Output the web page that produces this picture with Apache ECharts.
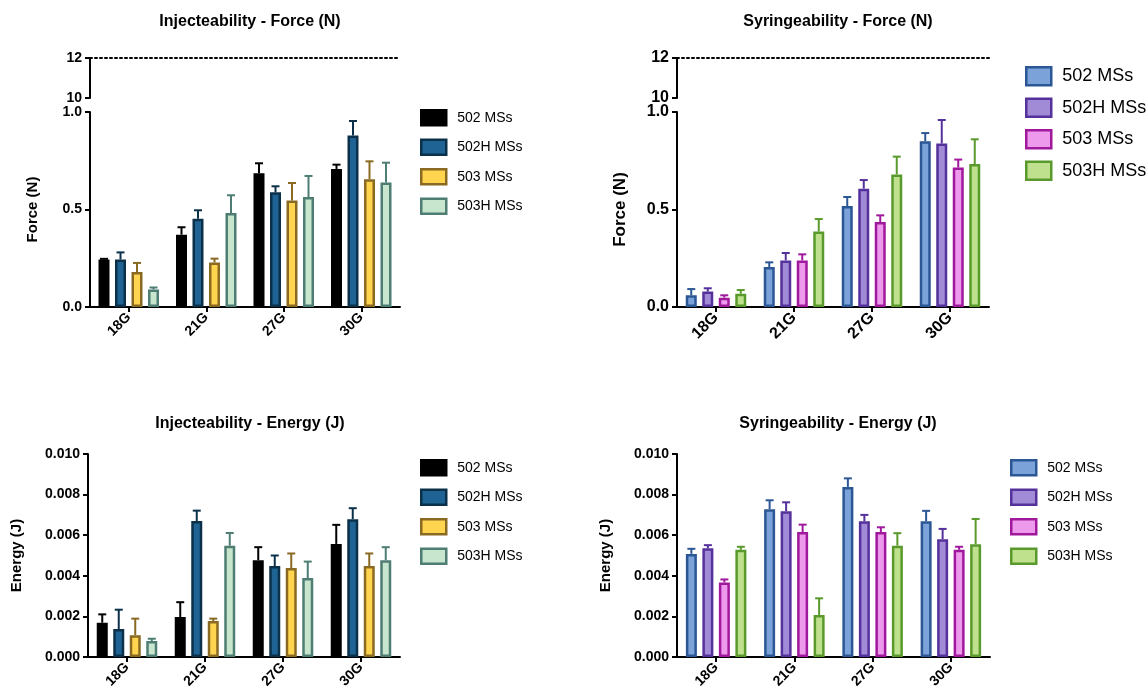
<!DOCTYPE html>
<html>
<head>
<meta charset="utf-8">
<title>Injecteability / Syringeability</title>
<script src="https://cdn.jsdelivr.net/npm/echarts@6/dist/echarts.min.js"></script>
<style>
    html, body { margin: 0; padding: 0; background: #fff; }
    #chart { width: 1146px; height: 695px; }
</style>
</head>
<body>
<div id="chart"></div>
<script>
// 分类与图例
var categories = ['18G', '21G', '27G', '30G'];
var seriesNames = ['502 MSs', '502H MSs', '503 MSs', '503H MSs'];

// Injecteability - Force (N): 均值 / SD
var injF502 = [0.243, 0.371, 0.686, 0.708],  injF502Sd = [0.004, 0.038, 0.051, 0.022];
var injF502H = [0.243, 0.453, 0.588, 0.879], injF502HSd = [0.037, 0.043, 0.031, 0.075];
var injF503 = [0.180, 0.228, 0.546, 0.655],  injF503Sd = [0.046, 0.020, 0.090, 0.092];
var injF503H = [0.090, 0.482, 0.564, 0.638], injF503HSd = [0.010, 0.091, 0.108, 0.102];

// Syringeability - Force (N)
var syrF502 = [0.060, 0.205, 0.518, 0.850],  syrF502Sd = [0.032, 0.024, 0.046, 0.042];
var syrF502H = [0.079, 0.239, 0.607, 0.838], syrF502HSd = [0.017, 0.038, 0.044, 0.121];
var syrF503 = [0.048, 0.239, 0.436, 0.715],  syrF503Sd = [0.012, 0.031, 0.034, 0.041];
var syrF503H = [0.068, 0.387, 0.680, 0.733], syrF503HSd = [0.019, 0.064, 0.091, 0.127];

// Injecteability - Energy (J)
var injE502 = [0.00169, 0.00197, 0.00477, 0.00557],  injE502Sd = [0.00041, 0.00073, 0.00064, 0.00094];
var injE502H = [0.00138, 0.00670, 0.00448, 0.00679], injE502HSd = [0.00095, 0.00051, 0.00052, 0.00054];
var injE503 = [0.00107, 0.00177, 0.00438, 0.00448],  injE503Sd = [0.00082, 0.00012, 0.00072, 0.00062];
var injE503H = [0.00079, 0.00548, 0.00389, 0.00477], injE503HSd = [0.00011, 0.00063, 0.00081, 0.00064];

// Syringeability - Energy (J)
var syrE502 = [0.00508, 0.00728, 0.00838, 0.00669],  syrE502Sd = [0.00025, 0.00044, 0.00042, 0.00051];
var syrE502H = [0.00536, 0.00718, 0.00669, 0.00580], syrE502HSd = [0.00015, 0.00044, 0.00031, 0.00051];
var syrE503 = [0.00367, 0.00616, 0.00616, 0.00528],  syrE503Sd = [0.00015, 0.00036, 0.00023, 0.00015];
var syrE503H = [0.00528, 0.00207, 0.00548, 0.00556], syrE503HSd = [0.00015, 0.00082, 0.00062, 0.00124];

var FONT = '"Liberation Sans", Arial, Helvetica, sans-serif';
var BAR_W = 11, BORDER_W = 2.5, BAR_GAP = 0.5;
var STEP = BAR_W * (1 + BAR_GAP);

var injFills = ['#000000', '#1f6394', '#ffd54f', '#c8e6cd'];
var injBorders = ['#000000', '#0b3049', '#8a6a22', '#4d7d73'];
var syrFills = ['#7ba3d9', '#a18bd6', '#ee9aec', '#bfe08c'];
var syrBorders = ['#2b5795', '#55319b', '#a0199c', '#5a9a2c'];

var option = {
    backgroundColor: '#fff',
    animation: false,
    title: [], grid: [], xAxis: [], yAxis: [], legend: [], series: []
};

/**
 * 误差线（只画上半部分）
 */
function errorBarItem(i, color) {
    return function (params, api) {
        var c = api.value(0);
        var base = api.coord([c, api.value(1)]);
        var top = api.coord([c, api.value(2)]);
        var x = base[0] + (i - 1.5) * STEP;
        var st = {stroke: color, lineWidth: 2};
        return {
            type: 'group',
            children: [
                {type: 'line', shape: {x1: x, y1: base[1], x2: x, y2: top[1]}, style: st},
                {type: 'line', shape: {x1: x - 4, y1: top[1], x2: x + 4, y2: top[1]}, style: st}
            ]
        };
    };
}

function valueAxis(gridIndex, min, max, interval, fs, fmt) {
    return {
        type: 'value', gridIndex: gridIndex, min: min, max: max, interval: interval,
        axisLine: {show: true, lineStyle: {color: '#000', width: 2}},
        axisTick: {show: true, length: 5, lineStyle: {color: '#000', width: 2}},
        splitLine: {show: false},
        axisLabel: {color: '#000', fontFamily: FONT, fontWeight: 'bold', fontSize: fs, formatter: fmt}
    };
}

function addPanel(p) {
    var k = option.grid.length;
    if (p.broken) {
        // 断轴上段 10-12，顶部虚线在 12
        option.grid.push({left: p.left, width: p.width, top: 58, height: 40});
        option.xAxis.push({
            type: 'category', gridIndex: k, data: categories, position: 'top',
            axisLine: {show: true, onZero: false, lineStyle: {color: '#000', width: 2, type: [2, 3]}},
            axisTick: {show: false}, axisLabel: {show: false}
        });
        option.yAxis.push(valueAxis(k, 10, 12, 2, p.yfs, function (v) { return String(v); }));
        k++;
    }
    option.grid.push({left: p.left, width: p.width, top: p.top, height: p.height});
    option.xAxis.push({
        type: 'category', gridIndex: k, data: categories,
        axisLine: {show: true, onZero: false, lineStyle: {color: '#000', width: 2}},
        axisTick: {show: true, alignWithLabel: true, length: 5, lineStyle: {color: '#000', width: 2}},
        axisLabel: {color: '#000', fontFamily: FONT, fontWeight: 'bold', fontSize: p.xfs, rotate: 45, margin: 8}
    });
    var ya = valueAxis(k, 0, p.yMax, p.yInterval, p.yfs, function (v) { return v.toFixed(p.decimals); });
    ya.name = p.yName;
    ya.nameLocation = 'middle';
    ya.nameGap = p.nameGap;
    ya.nameTextStyle = {color: '#000', fontFamily: FONT, fontWeight: 'bold', fontSize: p.nameFs};
    option.yAxis.push(ya);

    option.title.push({
        text: p.title, left: p.titleX, top: p.titleTop, textAlign: 'center',
        textStyle: {color: '#000', fontFamily: FONT, fontWeight: 'bold', fontSize: 16}
    });

    var names = [];
    for (var i = 0; i < 4; i++) {
        var name = seriesNames[i] + '#' + p.key;
        names.push(name);
        option.series.push({
            type: 'bar', name: name, xAxisIndex: k, yAxisIndex: k,
            data: p.means[i], barWidth: BAR_W, barGap: (BAR_GAP * 100) + '%', z: 3,
            itemStyle: {color: p.fills[i], borderColor: p.borders[i], borderWidth: BORDER_W}
        });
        option.series.push({
            type: 'custom', name: name + '-err', xAxisIndex: k, yAxisIndex: k, z: 2,
            renderItem: errorBarItem(i, p.borders[i]),
            data: categories.map(function (c, j) {
                return [j, p.means[i][j], p.means[i][j] + p.sds[i][j]];
            })
        });
    }
    option.legend.push({
        data: names, orient: 'vertical', left: p.lg.left, top: p.lg.top,
        itemWidth: 25, itemHeight: p.lg.h, itemGap: p.lg.gap, icon: 'rect', selectedMode: false,
        itemStyle: {borderWidth: 2.5},
        formatter: function (n) { return n.split('#')[0]; },
        textStyle: {color: '#000', fontFamily: FONT, fontSize: p.lg.fs, padding: [0, 0, 0, 6]}
    });
}

addPanel({
    key: 'injF', title: 'Injecteability - Force (N)', titleX: 245, titleTop: 9, broken: true,
    left: 90, width: 310, top: 112, height: 195, yMax: 1, yInterval: 0.5, decimals: 1,
    yName: 'Force (N)', nameGap: 50, nameFs: 15, xfs: 14, yfs: 14,
    means: [injF502, injF502H, injF503, injF503H], sds: [injF502Sd, injF502HSd, injF503Sd, injF503HSd],
    fills: injFills, borders: injBorders,
    lg: {left: 415, top: 104, h: 15, gap: 12, fs: 14}
});
addPanel({
    key: 'syrF', title: 'Syringeability - Force (N)', titleX: 833, titleTop: 9, broken: true,
    left: 677, width: 312, top: 112, height: 195, yMax: 1, yInterval: 0.5, decimals: 1,
    yName: 'Force (N)', nameGap: 48, nameFs: 17, xfs: 16, yfs: 16,
    means: [syrF502, syrF502H, syrF503, syrF503H], sds: [syrF502Sd, syrF502HSd, syrF503Sd, syrF503HSd],
    fills: syrFills, borders: syrBorders,
    lg: {left: 1020, top: 61, h: 18, gap: 11, fs: 18}
});
addPanel({
    key: 'injE', title: 'Injecteability - Energy (J)', titleX: 245, titleTop: 411, broken: false,
    left: 88, width: 312, top: 454, height: 203, yMax: 0.01, yInterval: 0.002, decimals: 3,
    yName: 'Energy (J)', nameGap: 64, nameFs: 15, xfs: 14, yfs: 14,
    means: [injE502, injE502H, injE503, injE503H], sds: [injE502Sd, injE502HSd, injE503Sd, injE503HSd],
    fills: injFills, borders: injBorders,
    lg: {left: 415, top: 454, h: 15, gap: 12, fs: 14}
});
addPanel({
    key: 'syrE', title: 'Syringeability - Energy (J)', titleX: 833, titleTop: 411, broken: false,
    left: 677, width: 313, top: 454, height: 203, yMax: 0.01, yInterval: 0.002, decimals: 3,
    yName: 'Energy (J)', nameGap: 64, nameFs: 15, xfs: 14, yfs: 14,
    means: [syrE502, syrE502H, syrE503, syrE503H], sds: [syrE502Sd, syrE502HSd, syrE503Sd, syrE503HSd],
    fills: syrFills, borders: syrBorders,
    lg: {left: 1005, top: 454, h: 15, gap: 12, fs: 14}
});

var myChart = echarts.init(document.getElementById('chart'));
myChart.setOption(option);
</script>
</body>
</html>
